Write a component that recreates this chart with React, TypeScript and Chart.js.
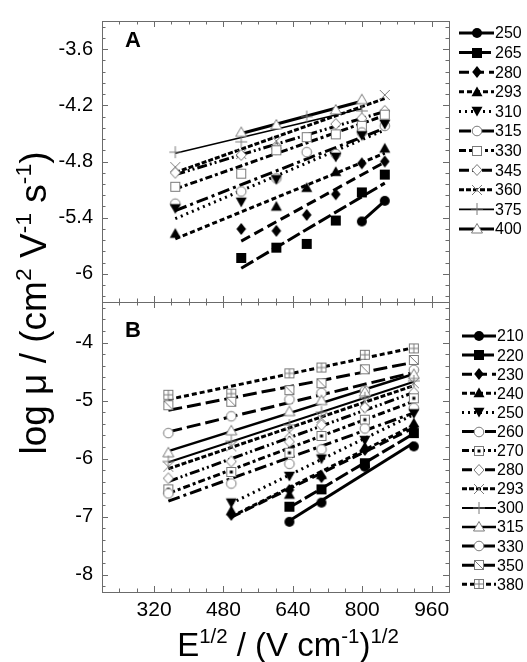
import React, { useEffect, useRef } from 'react';
import { Chart, registerables } from 'chart.js';
Chart.register(...registerables);

const FONT = '"Liberation Sans", Arial, Helvetica, sans-serif';
const FRAME = '#6b6b6b';

// Axes
const X_MIN = 200;
const X_MAX = 1000;
const X_TICKS = [320, 480, 640, 800, 960];
const A_Y_TICKS = [-3.6, -4.2, -4.8, -5.4, -6];
const B_Y_TICKS = [-4, -5, -6, -7, -8];

// Panel A data (E^1/2 columns and log mu values)
const A_X = [369, 521, 602, 672, 739, 799, 852];
const A_LABELS = ['250', '265', '280', '293', '310', '315', '330', '345', '360', '375', '400'];
const A_250 = [null, null, null, null, null, -5.44, -5.22];
const A_265 = [null, -5.83, -5.72, -5.68, -5.43, -5.13, -4.94];
const A_280 = [null, -5.52, -5.54, -5.37, -5.15, -4.82, -4.8];
const A_293 = [-5.57, null, -5.28, -5.08, -4.91, null, -4.66];
const A_310 = [-5.3, -5.23, -4.99, null, -4.75, -4.52, -4.4];
const A_315 = [-5.25, -5.12, -4.98, -4.7, -4.72, -4.49, -4.42];
const A_330 = [-5.07, -4.93, -4.68, -4.54, -4.51, -4.42, -4.3];
const A_345 = [-4.92, -4.73, -4.66, null, -4.4, -4.34, -4.26];
const A_360 = [-4.86, -4.72, -4.58, null, null, null, -4.09];
const A_375 = [-4.7, -4.59, null, -4.32, null, -4.26, null];
const A_400 = [null, -4.49, -4.41, null, -4.25, -4.14, null];
const A_SERIES = [A_250, A_265, A_280, A_293, A_310, A_315, A_330, A_345, A_360, A_375, A_400];

// Panel B data
const B_X = [353, 498, 632, 706, 806, 919];
const B_LABELS = ['210', '220', '230', '240', '250', '260', '270', '280', '293', '300', '315', '330', '350', '380'];
const B_210 = [null, null, -7.09, -6.76, -6.14, -5.79];
const B_220 = [null, null, -6.83, -6.53, -6.08, -5.56];
const B_230 = [null, -6.97, -6.54, -6.32, -5.85, -5.45];
const B_240 = [null, -6.9, -6.62, -6.28, -5.8, -5.39];
const B_250 = [null, -6.76, -6.3, -6.0, -5.68, -5.22];
const B_260 = [-6.6, -6.43, -6.09, -5.84, -5.48, -5.13];
const B_270 = [-6.53, -6.23, -5.9, -5.61, -5.33, -4.96];
const B_280 = [-6.34, -6.05, -5.71, -5.42, -5.12, -4.86];
const B_293 = [-6.14, -5.79, -5.55, -5.3, -5.02, -4.7];
const B_300 = [-6.05, -5.7, -5.42, -5.2, -4.95, -4.66];
const B_315 = [-5.9, -5.52, -5.19, -5.0, -4.85, -4.55];
const B_330 = [-5.56, -5.27, -4.98, -4.87, -4.83, -4.47];
const B_350 = [-5.08, -5.02, -4.82, -4.7, -4.46, -4.3];
const B_380 = [-4.9, -4.88, -4.53, -4.43, -4.21, -4.1];
const B_SERIES = [B_210, B_220, B_230, B_240, B_250, B_260, B_270, B_280, B_293, B_300, B_315, B_330, B_350, B_380];

// Styles
const A_STYLES = [
  { m: 'circleF', dash: [], w: 3 },
  { m: 'squareF', dash: [14, 4], w: 3 },
  { m: 'diamondF', dash: [10, 5], w: 3 },
  { m: 'triF', dash: [5, 3], w: 3 },
  { m: 'triDownF', dash: [2, 4], w: 3 },
  { m: 'circleO', dash: [12, 4, 3, 4], w: 3 },
  { m: 'squareO', dash: [7, 3, 3, 3], w: 3 },
  { m: 'diamondO', dash: [10, 3, 2, 3, 2, 3], w: 3 },
  { m: 'xcross', dash: [5, 2], w: 3 },
  { m: 'plus', dash: [], w: 1.6 },
  { m: 'triO', dash: [], w: 3 },
];
const B_STYLES = [
  { m: 'circleF', dash: [], w: 3 },
  { m: 'squareF', dash: [14, 4], w: 3 },
  { m: 'diamondF', dash: [10, 5], w: 3 },
  { m: 'triF', dash: [5, 3], w: 3 },
  { m: 'triDownF', dash: [2, 4], w: 3 },
  { m: 'circleO', dash: [12, 4, 3, 4], w: 3 },
  { m: 'squareDot', dash: [7, 3, 3, 3], w: 3 },
  { m: 'diamondO', dash: [10, 3, 2, 3, 2, 3], w: 3 },
  { m: 'xcross', dash: [5, 2], w: 3 },
  { m: 'plus', dash: [], w: 2 },
  { m: 'triO', dash: [], w: 2.5 },
  { m: 'circleO', dash: [14, 5], w: 3 },
  { m: 'squareDiag', dash: [14, 5], w: 3 },
  { m: 'squarePlus', dash: [5, 3], w: 3 },
];

function makeMarker(kind: string): HTMLCanvasElement {
  const c = document.createElement('canvas');
  c.width = 16;
  c.height = 16;
  const g = c.getContext('2d')!;
  const cx = 8, cy = 8;
  const black = '#000';
  const gray = '#7a7a7a';
  g.lineWidth = 1;
  g.strokeStyle = gray;
  g.fillStyle = black;
  const sq = () => {
    g.fillStyle = '#fff';
    g.fillRect(3.5, 3.5, 9, 9);
    g.strokeRect(3.5, 3.5, 9, 9);
  };
  switch (kind) {
    case 'circleF':
      g.beginPath(); g.arc(cx, cy, 5, 0, Math.PI * 2); g.fill(); break;
    case 'squareF':
      g.fillRect(3, 3, 10, 10); break;
    case 'diamondF':
      g.beginPath(); g.moveTo(cx, cy - 6); g.lineTo(cx + 4.8, cy); g.lineTo(cx, cy + 6); g.lineTo(cx - 4.8, cy); g.closePath(); g.fill(); break;
    case 'triF':
      g.beginPath(); g.moveTo(cx, cy - 5.5); g.lineTo(cx + 5.5, cy + 4.2); g.lineTo(cx - 5.5, cy + 4.2); g.closePath(); g.fill(); break;
    case 'triDownF':
      g.beginPath(); g.moveTo(cx, cy + 5.5); g.lineTo(cx + 5.5, cy - 4.2); g.lineTo(cx - 5.5, cy - 4.2); g.closePath(); g.fill(); break;
    case 'circleO':
      g.fillStyle = '#fff'; g.beginPath(); g.arc(cx, cy, 4.8, 0, Math.PI * 2); g.fill(); g.stroke(); break;
    case 'squareO':
      sq(); break;
    case 'squareDot':
      sq(); g.fillStyle = black; g.fillRect(6.5, 6.5, 3, 3); break;
    case 'squareDiag':
      sq(); g.beginPath(); g.moveTo(3.5, 3.5); g.lineTo(12.5, 12.5); g.stroke(); break;
    case 'squarePlus':
      sq(); g.beginPath(); g.moveTo(8, 3.5); g.lineTo(8, 12.5); g.moveTo(3.5, 8); g.lineTo(12.5, 8); g.stroke(); break;
    case 'diamondO':
      g.fillStyle = '#fff'; g.beginPath(); g.moveTo(cx, cy - 5.5); g.lineTo(cx + 5, cy); g.lineTo(cx, cy + 5.5); g.lineTo(cx - 5, cy); g.closePath(); g.fill(); g.stroke(); break;
    case 'xcross':
      g.beginPath(); g.moveTo(3, 3); g.lineTo(13, 13); g.moveTo(13, 3); g.lineTo(3, 13); g.stroke(); break;
    case 'plus':
      g.beginPath(); g.moveTo(8, 2); g.lineTo(8, 14); g.moveTo(2, 8); g.lineTo(14, 8); g.stroke(); break;
    case 'triO':
      g.fillStyle = '#fff'; g.beginPath(); g.moveTo(cx, cy - 5.5); g.lineTo(cx + 5.5, cy + 4); g.lineTo(cx - 5.5, cy + 4); g.closePath(); g.fill(); g.stroke(); break;
  }
  return c;
}

function fit(pts: { x: number; y: number }[]) {
  const n = pts.length;
  const mx = pts.reduce((s, p) => s + p.x, 0) / n;
  const my = pts.reduce((s, p) => s + p.y, 0) / n;
  let sxy = 0, sxx = 0;
  pts.forEach((p) => { sxy += (p.x - mx) * (p.y - my); sxx += (p.x - mx) * (p.x - mx); });
  const b = sxx ? sxy / sxx : 0;
  const a = my - b * mx;
  const x0 = pts[0].x, x1 = pts[n - 1].x;
  return [{ x: x0, y: a + b * x0 }, { x: x1, y: a + b * x1 }];
}

function drawRich(ctx: CanvasRenderingContext2D, parts: { t: string; sup?: boolean }[], size: number, x: number, y: number) {
  const supSize = size * 0.62;
  let total = 0;
  parts.forEach((p) => {
    ctx.font = `${p.sup ? supSize : size}px ${FONT}`;
    total += ctx.measureText(p.t).width;
  });
  let cx = x - total / 2;
  ctx.textAlign = 'left';
  ctx.textBaseline = 'alphabetic';
  parts.forEach((p) => {
    ctx.font = `${p.sup ? supSize : size}px ${FONT}`;
    ctx.fillText(p.t, cx, p.sup ? y - size * 0.4 : y);
    cx += ctx.measureText(p.t).width;
  });
}

type Panel = {
  xs: number[]; series: (number | null)[][]; labels: string[]; styles: any[];
  yMin: number; yMax: number; yTicks: number[]; yMinor: number[];
  padTop: number; padBottom: number; showX: boolean; letter: string; letterY: number;
  legendY0: number; legendStep: number; legendTextX: number; legendLine: [number, number]; titles: boolean;
};

function xMinorTicks() {
  const out: number[] = [];
  for (let v = X_MIN + 40; v < X_MAX; v += 40) if (!X_TICKS.includes(v)) out.push(v);
  return out;
}

function makeConfig(p: Panel, getMarker: (k: string) => HTMLCanvasElement): any {
  const datasets: any[] = [];
  p.series.forEach((vals, i) => {
    const st = p.styles[i];
    const pts = p.xs.map((x, j) => (vals[j] == null ? null : { x, y: vals[j] as number })).filter(Boolean) as any[];
    datasets.push({
      label: p.labels[i] + ' fit', data: fit(pts), showLine: true, borderColor: '#000', borderWidth: st.w,
      borderDash: st.dash, pointRadius: 0, fill: false, order: 1,
    });
    datasets.push({
      label: p.labels[i], data: pts, showLine: false, pointStyle: getMarker(st.m), pointRadius: 6, order: 0,
    });
  });
  const xMinor = xMinorTicks();
  const plugin = {
    id: 'decor' + p.letter,
    afterDraw(chart: any) {
      const ctx: CanvasRenderingContext2D = chart.ctx;
      const a = chart.chartArea;
      const xs = chart.scales.x;
      const ys = chart.scales.y;
      ctx.save();
      ctx.strokeStyle = FRAME;
      ctx.lineWidth = 1;
      ctx.setLineDash([]);
      ctx.strokeRect(Math.round(a.left) + 0.5, Math.round(a.top) + 0.5, Math.round(a.right - a.left), Math.round(a.bottom - a.top));
      ctx.beginPath();
      const tx = (v: number, len: number) => {
        const px = Math.round(xs.getPixelForValue(v)) + 0.5;
        ctx.moveTo(px, a.bottom); ctx.lineTo(px, a.bottom - len);
        ctx.moveTo(px, a.top); ctx.lineTo(px, a.top + len);
      };
      const ty = (v: number, len: number) => {
        if (v < p.yMin || v > p.yMax) return;
        const py = Math.round(ys.getPixelForValue(v)) + 0.5;
        ctx.moveTo(a.left, py); ctx.lineTo(a.left + len, py);
        ctx.moveTo(a.right, py); ctx.lineTo(a.right - len, py);
      };
      X_TICKS.forEach((v) => tx(v, 6));
      xMinor.forEach((v) => tx(v, 3.5));
      p.yTicks.forEach((v) => ty(v, 6));
      p.yMinor.forEach((v) => ty(v, 3.5));
      ctx.stroke();

      // panel letter
      ctx.fillStyle = '#000';
      ctx.font = `bold 22px ${FONT}`;
      ctx.textAlign = 'left';
      ctx.textBaseline = 'alphabetic';
      ctx.fillText(p.letter, 125, p.letterY);

      // legend
      p.labels.forEach((lab, i) => {
        const st = p.styles[i];
        const y = p.legendY0 + i * p.legendStep;
        ctx.strokeStyle = '#000';
        ctx.lineWidth = st.w;
        ctx.setLineDash(st.dash);
        ctx.beginPath();
        ctx.moveTo(p.legendLine[0], y);
        ctx.lineTo(p.legendLine[1], y);
        ctx.stroke();
        ctx.setLineDash([]);
        const mk = getMarker(st.m);
        const mx = (p.legendLine[0] + p.legendLine[1]) / 2;
        ctx.drawImage(mk, Math.round(mx - 8), Math.round(y - 8));
        ctx.fillStyle = '#000';
        ctx.font = `16px ${FONT}`;
        ctx.textAlign = 'left';
        ctx.textBaseline = 'middle';
        ctx.fillText(lab, p.legendTextX, y + 1);
      });

      if (p.titles) {
        ctx.fillStyle = '#000';
        drawRich(ctx, [
          { t: 'E' }, { t: '1/2', sup: true }, { t: ' / (V cm' }, { t: '-1', sup: true }, { t: ')' }, { t: '1/2', sup: true },
        ], 33, 288, 656);
        ctx.save();
        ctx.translate(46, 303);
        ctx.rotate(-Math.PI / 2);
        drawRich(ctx, [
          { t: 'log \u03bc / (cm' }, { t: '2', sup: true }, { t: ' V' }, { t: '-1', sup: true }, { t: ' s' }, { t: '-1', sup: true }, { t: ')' },
        ], 37, 0, 0);
        ctx.restore();
      }
      ctx.restore();
    },
  };
  return {
    type: 'scatter',
    data: { datasets },
    options: {
      animation: false,
      responsive: false,
      maintainAspectRatio: false,
      devicePixelRatio: 1,
      events: [],
      layout: { padding: { left: 0, right: 78, top: p.padTop, bottom: p.padBottom } },
      plugins: { legend: { display: false }, tooltip: { enabled: false } },
      scales: {
        x: {
          type: 'linear', min: X_MIN, max: X_MAX, display: p.showX,
          afterBuildTicks: (s: any) => { s.ticks = X_TICKS.map((v) => ({ value: v })); },
          afterFit: (s: any) => { if (p.showX) s.height = 70; },
          grid: { display: false, drawTicks: false },
          border: { display: false },
          ticks: { color: '#000', font: { size: 21, family: FONT }, padding: 6, maxRotation: 0, autoSkip: false, callback: (v: any) => String(v) },
        },
        y: {
          type: 'linear', min: p.yMin, max: p.yMax,
          afterBuildTicks: (s: any) => { s.ticks = p.yTicks.map((v) => ({ value: v })); },
          afterFit: (s: any) => { s.width = 102; },
          grid: { display: false, drawTicks: false },
          border: { display: false },
          ticks: { color: '#000', font: { size: 20, family: FONT }, padding: 9, autoSkip: false, callback: (v: any) => String(v) },
        },
      },
    },
    plugins: [plugin],
  };
}

function minorRange(base: number, step: number, kFrom: number, kTo: number, every: number) {
  const out: number[] = [];
  for (let k = kFrom; k <= kTo; k++) if (k % every !== 0) out.push(+(base + k * step).toFixed(4));
  return out;
}

const PANEL_A: Panel = {
  xs: A_X, series: A_SERIES, labels: A_LABELS, styles: A_STYLES,
  yMin: -6.3, yMax: -3.3, yTicks: A_Y_TICKS, yMinor: minorRange(-6, 0.12, -2, 22, 5),
  padTop: 12, padBottom: 360, showX: false, letter: 'A', letterY: 47,
  legendY0: 33, legendStep: 19.6, legendTextX: 495, legendLine: [459, 494], titles: false,
};
const PANEL_B: Panel = {
  xs: B_X, series: B_SERIES, labels: B_LABELS, styles: B_STYLES,
  yMin: -8.3, yMax: -3.3, yTicks: B_Y_TICKS, yMinor: minorRange(-8, 0.2, -1, 23, 5),
  padTop: 302, padBottom: 0, showX: true, letter: 'B', letterY: 337,
  legendY0: 336, legendStep: 19.1, legendTextX: 497, legendLine: [462, 496], titles: true,
};

export default function App() {
  const refA = useRef<HTMLCanvasElement>(null);
  const refB = useRef<HTMLCanvasElement>(null);
  useEffect(() => {
    const markers: Record<string, HTMLCanvasElement> = {};
    const getMarker = (k: string) => markers[k] || (markers[k] = makeMarker(k));
    const chartA = new Chart(refA.current!, makeConfig(PANEL_A, getMarker));
    const chartB = new Chart(refB.current!, makeConfig(PANEL_B, getMarker));
    return () => { chartA.destroy(); chartB.destroy(); };
  }, []);
  return (
    <div style={{ position: 'absolute', left: 0, top: 0, width: 527, height: 662, background: '#fff' }}>
      <canvas ref={refA} width={527} height={662} style={{ position: 'absolute', left: 0, top: 0, width: 527, height: 662 }} />
      <canvas ref={refB} width={527} height={662} style={{ position: 'absolute', left: 0, top: 0, width: 527, height: 662 }} />
    </div>
  );
}
